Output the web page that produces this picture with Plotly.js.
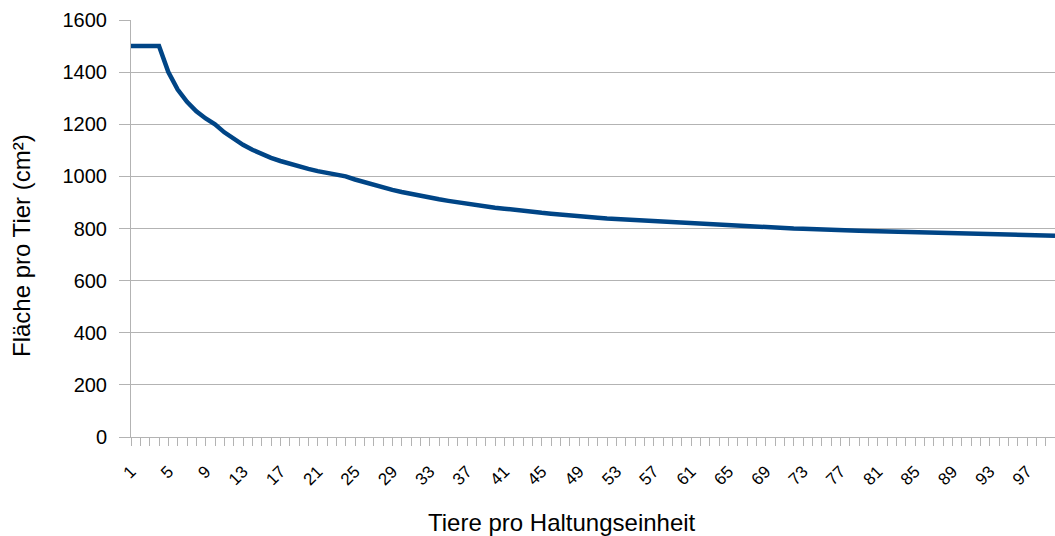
<!DOCTYPE html>
<html>
<head>
<meta charset="utf-8">
<script src="https://cdn.plot.ly/plotly-3.0.1.min.js"></script>
<style>
  html, body { margin: 0; padding: 0; background: #fff; }
  #chart { width: 1055px; height: 536px; }
</style>
</head>
<body>
<div id="chart"></div>
<script>
// Tiere pro Haltungseinheit (1..100)
const animals = [
  1,2,3,4,5,6,7,8,9,10,11,12,13,14,15,16,17,18,19,20,
  21,22,23,24,25,26,27,28,29,30,31,32,33,34,35,36,37,38,39,40,
  41,42,43,44,45,46,47,48,49,50,51,52,53,54,55,56,57,58,59,60,
  61,62,63,64,65,66,67,68,69,70,71,72,73,74,75,76,77,78,79,80,
  81,82,83,84,85,86,87,88,89,90,91,92,93,94,95,96,97,98,99,100
];
// Fläche pro Tier (cm²)
const areaPerAnimal = [
  1500,1500,1500,1500,1400,1333,1286,1250,1222,1200,
  1169,1143,1121,1102,1086,1071,1059,1048,1038,1029,
  1020,1013,1006,1000,988,977,967,957,948,940,
  932,925,918,912,906,900,895,889,885,880,
  876,871,867,864,860,857,853,850,847,844,
  841,838,836,833,831,829,826,824,822,820,
  818,816,814,813,811,809,807,806,804,803,
  801,800,799,797,796,795,794,792,791,790,
  789,788,787,786,785,784,783,782,781,780,
  779,778,777,777,776,775,774,773,773,772
];
const xTitle = "Tiere pro Haltungseinheit";
const yTitle = "Fläche pro Tier (cm²)";

const grid = "#b3b3b3";
const font = "Liberation Sans, Arial, sans-serif";

const trace = {
  x: animals,
  y: areaPerAnimal,
  type: "scatter",
  mode: "lines",
  line: { color: "#004586", width: 4.5 },
  hoverinfo: "x+y"
};

const layout = {
  width: 1055,
  height: 536,
  margin: { l: 131, r: 0, t: 20, b: 99, pad: 0 },
  paper_bgcolor: "#ffffff",
  plot_bgcolor: "#ffffff",
  showlegend: false,
  font: { family: font, color: "#000000" },
  xaxis: {
    type: "linear",
    range: [1, 100],
    tick0: 1,
    dtick: 4,
    tickangle: -45,
    ticks: "outside",
    ticklen: 8,
    tickwidth: 1,
    tickcolor: grid,
    ticklabelstandoff: 9,
    minor: { dtick: 1, tick0: 1, ticks: "outside", ticklen: 8, tickcolor: grid, tickwidth: 1, showgrid: false },
    showgrid: false,
    zeroline: false,
    showline: true,
    linecolor: grid,
    linewidth: 1,
    tickfont: { family: font, size: 17, color: "#000000" },
    fixedrange: true
  },
  yaxis: {
    range: [0, 1600],
    dtick: 200,
    tick0: 0,
    ticks: "outside",
    ticklen: 11,
    tickwidth: 1,
    tickcolor: grid,
    ticklabelstandoff: 8,
    showgrid: true,
    gridcolor: grid,
    gridwidth: 1,
    zeroline: false,
    showline: true,
    linecolor: grid,
    linewidth: 1,
    tickfont: { family: font, size: 20, color: "#000000" },
    fixedrange: true
  },
  annotations: [
    {
      text: xTitle, xref: "paper", yref: "paper",
      x: (562 - 131) / 924, y: -(522 - 437) / 417,
      xanchor: "center", yanchor: "middle", showarrow: false,
      font: { family: font, size: 24, color: "#000000" }
    },
    {
      text: yTitle, xref: "paper", yref: "paper",
      x: -(131 - 22) / 924, y: (437 - 246) / 417,
      xanchor: "center", yanchor: "middle", showarrow: false, textangle: -90,
      font: { family: font, size: 24, color: "#000000" }
    }
  ]
};

Plotly.newPlot("chart", [trace], layout, { displayModeBar: false, staticPlot: true });
</script>
</body>
</html>
